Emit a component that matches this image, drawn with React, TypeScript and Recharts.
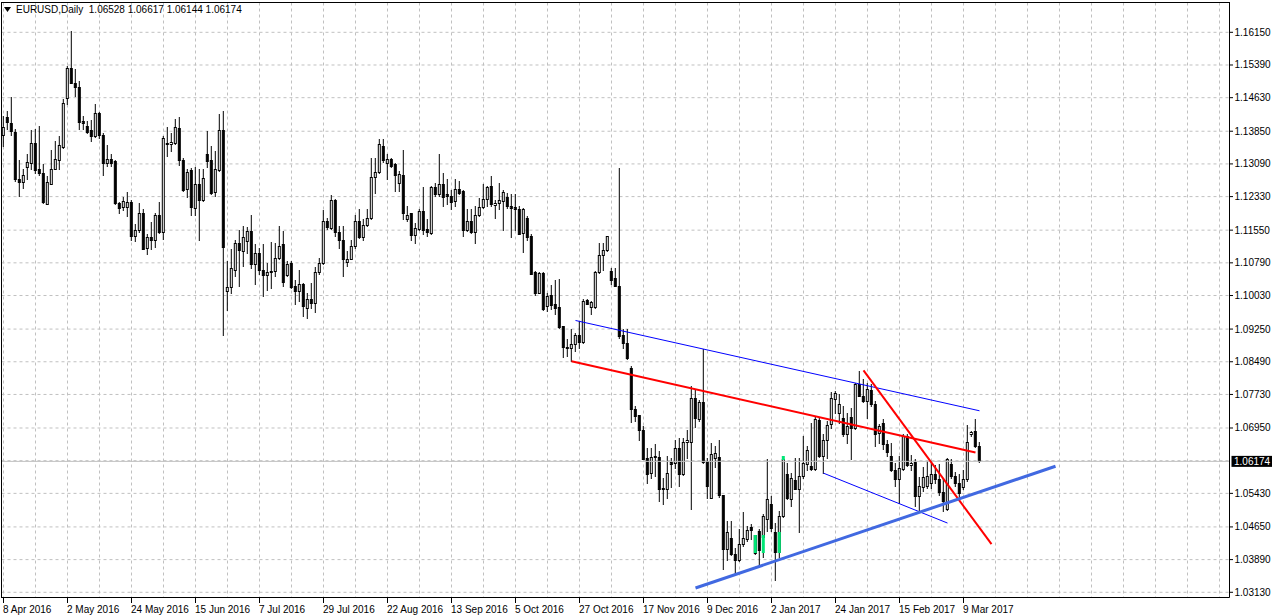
import React from "react";
import { Bar, CartesianGrid, ComposedChart, ReferenceLine, XAxis, YAxis } from "recharts";

// EURUSD daily candles, left to right (one per bar slot)
const opens = [
  1.1376, 1.1417, 1.1403, 1.1382, 1.1273, 1.1265, 1.1300, 1.1310, 1.1357, 1.1295,
  1.1287, 1.1215, 1.1262, 1.1296, 1.1318, 1.1348, 1.1462, 1.1531, 1.1496, 1.1486,
  1.1407, 1.1396, 1.1386, 1.1372, 1.1427, 1.1376, 1.1310, 1.1320, 1.1314, 1.1217,
  1.1207, 1.1207, 1.1220, 1.1140, 1.1155, 1.1194, 1.1113, 1.1138, 1.1131, 1.1190,
  1.1149, 1.1357, 1.1355, 1.1357, 1.1392, 1.1318, 1.1250, 1.1293, 1.1206, 1.1260,
  1.1223, 1.1331, 1.1316, 1.1242, 1.1293, 1.1386, 1.1012, 1.1021, 1.1062, 1.1124,
  1.1105, 1.1128, 1.1153, 1.1076, 1.1101, 1.1062, 1.1049, 1.1056, 1.1059, 1.1090,
  1.1121, 1.1049, 1.1078, 1.1024, 1.1012, 1.1028, 1.0972, 1.0994, 1.0985, 1.1056,
  1.1078, 1.1176, 1.1159, 1.1225, 1.1149, 1.1130, 1.1080, 1.1087, 1.1117, 1.1176,
  1.1138, 1.1165, 1.1183, 1.1278, 1.1289, 1.1350, 1.1310, 1.1320, 1.1307, 1.1264,
  1.1283, 1.1179, 1.1193, 1.1142, 1.1157, 1.1198, 1.1157, 1.1148, 1.1255, 1.1237,
  1.1260, 1.1237, 1.1234, 1.1221, 1.1250, 1.1245, 1.1154, 1.1175, 1.1149, 1.1190,
  1.1208, 1.1227, 1.1256, 1.1212, 1.1217, 1.1221, 1.1231, 1.1211, 1.1207, 1.1204,
  1.1148, 1.1181, 1.1140, 1.1056, 1.1008, 1.1055, 1.0977, 1.1002, 1.0981, 1.0975,
  1.0931, 1.0882, 1.0880, 1.0888, 1.0910, 1.0893, 1.0991, 1.0976, 1.0976, 1.1057,
  1.1096, 1.1107, 1.1060, 1.1043, 1.1025, 1.0909, 1.0892, 1.0834, 1.0737, 1.0723,
  1.0690, 1.0625, 1.0590, 1.0626, 1.0626, 1.0552, 1.0552, 1.0615, 1.0613, 1.0648,
  1.0586, 1.0662, 1.0662, 1.0764, 1.0715, 1.0754, 1.0617, 1.0532, 1.0625, 1.0626,
  1.0538, 1.0413, 1.0439, 1.0402, 1.0388, 1.0425, 1.0435, 1.0464, 1.0444, 1.0454,
  1.0441, 1.0483, 1.0516, 1.0452, 1.0405, 1.0489, 1.0586, 1.0529, 1.0574, 1.0551,
  1.0582, 1.0611, 1.0605, 1.0599, 1.0712, 1.0628, 1.0665, 1.0702, 1.0762, 1.0729,
  1.0718, 1.0681, 1.0720, 1.0694, 1.0797, 1.0769, 1.0756, 1.0783, 1.0749, 1.0683,
  1.0706, 1.0656, 1.0628, 1.0596, 1.0576, 1.0599, 1.0675, 1.0607, 1.0614, 1.0535,
  1.0557, 1.0559, 1.0565, 1.0586, 1.0576, 1.0545, 1.0506, 1.0609, 1.0582, 1.0565,
  1.0556, 1.0576, 1.0679, 1.0687, 1.06528,
];

const highs = [
  1.1420, 1.1431, 1.1464, 1.1388, 1.1318, 1.1295, 1.1330, 1.1386, 1.1389, 1.1397,
  1.1307, 1.1279, 1.1341, 1.1361, 1.1372, 1.1459, 1.1535, 1.1616, 1.1529, 1.1500,
  1.1419, 1.1407, 1.1411, 1.1448, 1.1428, 1.1380, 1.1351, 1.1330, 1.1318, 1.1220,
  1.1230, 1.1243, 1.1223, 1.1167, 1.1217, 1.1202, 1.1145, 1.1173, 1.1194, 1.1220,
  1.1372, 1.1394, 1.1380, 1.1413, 1.1417, 1.1322, 1.1297, 1.1299, 1.1300, 1.1295,
  1.1297, 1.1384, 1.1349, 1.1339, 1.1423, 1.1431, 1.1083, 1.1111, 1.1132, 1.1155,
  1.1163, 1.1161, 1.1189, 1.1121, 1.1113, 1.1121, 1.1078, 1.1127, 1.1123, 1.1163,
  1.1152, 1.1082, 1.1083, 1.1039, 1.1062, 1.1030, 1.1007, 1.1030, 1.1069, 1.1090,
  1.1200, 1.1183, 1.1235, 1.1227, 1.1163, 1.1163, 1.1105, 1.1132, 1.1190, 1.1202,
  1.1179, 1.1202, 1.1322, 1.1322, 1.1366, 1.1366, 1.1332, 1.1322, 1.1310, 1.1291,
  1.1341, 1.1210, 1.1194, 1.1171, 1.1202, 1.1254, 1.1179, 1.1256, 1.1264, 1.1330,
  1.1287, 1.1272, 1.1248, 1.1272, 1.1268, 1.1248, 1.1203, 1.1202, 1.1210, 1.1229,
  1.1260, 1.1256, 1.1279, 1.1225, 1.1264, 1.1248, 1.1241, 1.1237, 1.1237, 1.1210,
  1.1206, 1.1186, 1.1144, 1.1059, 1.1057, 1.1056, 1.1008, 1.1026, 1.1039, 1.1041,
  1.0931, 1.0900, 1.0923, 1.0915, 1.0942, 1.0993, 1.0994, 1.0989, 1.1059, 1.1124,
  1.1124, 1.1141, 1.1066, 1.1066, 1.1299, 1.0923, 1.0923, 1.0838, 1.0745, 1.0725,
  1.0698, 1.0648, 1.0648, 1.0656, 1.0640, 1.0578, 1.0628, 1.0625, 1.0667, 1.0671,
  1.0671, 1.0690, 1.0791, 1.0783, 1.0759, 1.0878, 1.0625, 1.0659, 1.0652, 1.0667,
  1.0539, 1.0477, 1.0477, 1.0415, 1.0458, 1.0498, 1.0466, 1.0470, 1.0446, 1.0458,
  1.0495, 1.0621, 1.0535, 1.0473, 1.0500, 1.0628, 1.0613, 1.0590, 1.0625, 1.0625,
  1.0675, 1.0653, 1.0706, 1.0721, 1.0718, 1.0679, 1.0710, 1.0777, 1.0780, 1.0772,
  1.0745, 1.0729, 1.0741, 1.0799, 1.0826, 1.0807, 1.0799, 1.0795, 1.0756, 1.0702,
  1.0714, 1.0667, 1.0658, 1.0613, 1.0628, 1.0679, 1.0679, 1.0632, 1.0621, 1.0580,
  1.0604, 1.0617, 1.0617, 1.0607, 1.0609, 1.0578, 1.0625, 1.0621, 1.0591, 1.0586,
  1.0597, 1.0700, 1.0687, 1.0714, 1.06617,
];

const lows = [
  1.1349, 1.1388, 1.1376, 1.1268, 1.1233, 1.1252, 1.1273, 1.1295, 1.1287, 1.1283,
  1.1217, 1.1214, 1.1260, 1.1295, 1.1295, 1.1345, 1.1448, 1.1495, 1.1465, 1.1388,
  1.1388, 1.1380, 1.1361, 1.1371, 1.1367, 1.1283, 1.1303, 1.1303, 1.1214, 1.1193,
  1.1200, 1.1186, 1.1130, 1.1128, 1.1150, 1.1109, 1.1099, 1.1109, 1.1114, 1.1148,
  1.1134, 1.1326, 1.1339, 1.1353, 1.1305, 1.1245, 1.1231, 1.1189, 1.1189, 1.1131,
  1.1221, 1.1300, 1.1237, 1.1234, 1.1291, 1.0910, 1.0969, 1.1008, 1.1047, 1.1024,
  1.1070, 1.1101, 1.1066, 1.1028, 1.1053, 1.1000, 1.1014, 1.1020, 1.1047, 1.1086,
  1.1024, 1.1047, 1.1020, 1.0981, 1.0989, 1.0954, 1.0950, 1.0973, 1.0963, 1.1053,
  1.1074, 1.1157, 1.1157, 1.1140, 1.1113, 1.1047, 1.1070, 1.1086, 1.1113, 1.1136,
  1.1131, 1.1163, 1.1180, 1.1241, 1.1287, 1.1312, 1.1272, 1.1301, 1.1245, 1.1245,
  1.1179, 1.1175, 1.1132, 1.1124, 1.1155, 1.1144, 1.1140, 1.1146, 1.1234, 1.1233,
  1.1210, 1.1214, 1.1202, 1.1210, 1.1237, 1.1140, 1.1152, 1.1148, 1.1123, 1.1186,
  1.1206, 1.1210, 1.1210, 1.1183, 1.1202, 1.1155, 1.1206, 1.1138, 1.1155, 1.1144,
  1.1103, 1.1132, 1.1051, 1.1004, 1.1007, 1.0969, 1.0966, 1.0971, 1.0958, 1.0927,
  1.0859, 1.0861, 1.0849, 1.0873, 1.0880, 1.0892, 1.0981, 1.0958, 1.0973, 1.1055,
  1.1062, 1.1105, 1.1028, 1.1024, 1.0904, 1.0880, 1.0855, 1.0708, 1.0710, 1.0666,
  1.0621, 1.0566, 1.0578, 1.0582, 1.0524, 1.0518, 1.0532, 1.0557, 1.0601, 1.0560,
  1.0584, 1.0625, 1.0506, 1.0696, 1.0710, 1.0613, 1.0532, 1.0530, 1.0604, 1.0534,
  1.0367, 1.0388, 1.0398, 1.0353, 1.0384, 1.0419, 1.0431, 1.0435, 1.0400, 1.0373,
  1.0395, 1.0454, 1.0454, 1.0340, 1.0395, 1.0487, 1.0529, 1.0512, 1.0551, 1.0452,
  1.0578, 1.0597, 1.0597, 1.0597, 1.0627, 1.0590, 1.0623, 1.0694, 1.0729, 1.0706,
  1.0676, 1.0659, 1.0621, 1.0692, 1.0768, 1.0754, 1.0718, 1.0746, 1.0653, 1.0659,
  1.0644, 1.0628, 1.0594, 1.0559, 1.0520, 1.0597, 1.0605, 1.0597, 1.0512, 1.0498,
  1.0547, 1.0555, 1.0555, 1.0566, 1.0539, 1.0500, 1.0504, 1.0578, 1.0559, 1.0534,
  1.0551, 1.0570, 1.0676, 1.0650, 1.06144,
];

const closes = [
  1.1394, 1.1405, 1.1384, 1.1272, 1.1265, 1.1283, 1.1313, 1.1357, 1.1293, 1.1287,
  1.1220, 1.1266, 1.1296, 1.1320, 1.1351, 1.1450, 1.1531, 1.1496, 1.1486, 1.1406,
  1.1402, 1.1382, 1.1372, 1.1427, 1.1376, 1.1309, 1.1320, 1.1310, 1.1216, 1.1205,
  1.1222, 1.1220, 1.1140, 1.1155, 1.1194, 1.1111, 1.1138, 1.1131, 1.1190, 1.1149,
  1.1369, 1.1355, 1.1359, 1.1394, 1.1317, 1.1248, 1.1289, 1.1207, 1.1262, 1.1223,
  1.1276, 1.1314, 1.1241, 1.1295, 1.1386, 1.1114, 1.1022, 1.1065, 1.1123, 1.1107,
  1.1138, 1.1153, 1.1074, 1.1101, 1.1061, 1.1049, 1.1057, 1.1059, 1.1090, 1.1118,
  1.1033, 1.1076, 1.1021, 1.1012, 1.1028, 1.0977, 1.0994, 1.0985, 1.1057, 1.1078,
  1.1175, 1.1161, 1.1225, 1.1149, 1.1130, 1.1086, 1.1087, 1.1118, 1.1176, 1.1138,
  1.1165, 1.1183, 1.1278, 1.1289, 1.1353, 1.1318, 1.1320, 1.1304, 1.1283, 1.1285,
  1.1194, 1.1190, 1.1142, 1.1159, 1.1198, 1.1155, 1.1149, 1.1255, 1.1237, 1.1260,
  1.1231, 1.1233, 1.1219, 1.1250, 1.1241, 1.1154, 1.1175, 1.1149, 1.1190, 1.1208,
  1.1227, 1.1255, 1.1214, 1.1217, 1.1223, 1.1242, 1.1210, 1.1205, 1.1202, 1.1146,
  1.1202, 1.1138, 1.1053, 1.1007, 1.1055, 1.0971, 1.1000, 1.0979, 1.0973, 1.0928,
  1.0883, 1.0879, 1.0888, 1.0909, 1.0893, 1.0989, 1.0983, 1.0986, 1.1057, 1.1097,
  1.1107, 1.1140, 1.1039, 1.1025, 1.0907, 1.0892, 1.0857, 1.0737, 1.0721, 1.0689,
  1.0622, 1.0587, 1.0626, 1.0628, 1.0552, 1.0555, 1.0590, 1.0611, 1.0648, 1.0587,
  1.0662, 1.0667, 1.0764, 1.0718, 1.0754, 1.0615, 1.0559, 1.0634, 1.0635, 1.0537,
  1.0413, 1.0452, 1.0402, 1.0387, 1.0425, 1.0437, 1.0456, 1.0456, 1.0404, 1.0411,
  1.0489, 1.0529, 1.0462, 1.0405, 1.0489, 1.0622, 1.0532, 1.0578, 1.0552, 1.0582,
  1.0613, 1.0642, 1.0599, 1.0714, 1.0628, 1.0665, 1.0700, 1.0764, 1.0776, 1.0749,
  1.0681, 1.0698, 1.0694, 1.0795, 1.0769, 1.0756, 1.0785, 1.0749, 1.0679, 1.0698,
  1.0656, 1.0638, 1.0596, 1.0576, 1.0600, 1.0675, 1.0607, 1.0613, 1.0535, 1.0559,
  1.0580, 1.0582, 1.0588, 1.0576, 1.0545, 1.0524, 1.0622, 1.0582, 1.0566, 1.0543,
  1.0576, 1.0661, 1.0685, 1.0653, 1.06174,
];

// bars painted green by an indicator: slot, lower and upper price
const greenBars = [188, 190, 194, 195];
const greenLow = [1.0404, 1.0404, 1.0404, 1.0620];
const greenHigh = [1.0444, 1.0444, 1.0453, 1.0628];

// one date label every 16 bars
const dateLabels = [
  "8 Apr 2016", "2 May 2016", "24 May 2016", "15 Jun 2016", "7 Jul 2016", "29 Jul 2016",
  "22 Aug 2016", "13 Sep 2016", "5 Oct 2016", "27 Oct 2016", "17 Nov 2016", "9 Dec 2016",
  "2 Jan 2017", "24 Jan 2017", "15 Feb 2017", "9 Mar 2017",
];

const priceTicks = [
  1.1615, 1.1539, 1.1463, 1.1385, 1.1309, 1.1233, 1.1155, 1.1079, 1.1003,
  1.0925, 1.0849, 1.0773, 1.0695, 1.0619, 1.0543, 1.0465, 1.0389, 1.0313,
];

const bid = 1.06174;
const symbolTitle = "EURUSD,Daily  1.06528 1.06617 1.06144 1.06174";

// hand drawn trend lines: [bar slot, price] at both ends
const redChannel = [[142, 1.0850], [243, 1.0638]];
const redSteep = [[215, 1.0829], [247, 1.0425]];
const blueUpper = [[143, 1.0945], [244, 1.0735]];
const blueLower = [[205, 1.0590], [236, 1.0474]];
const blueSupport = [[173, 1.0323], [263, 1.0606]];

const SLOTS = 307; // bars plus the empty shift area on the right
const FONT = "'Liberation Sans', Arial, sans-serif";

const rows = Array.from({ length: SLOTS }, (_, i) => {
  const g = greenBars.indexOf(i);
  const has = i < opens.length;
  return {
    i,
    o: has ? opens[i] : null,
    h: has ? highs[i] : null,
    l: has ? lows[i] : null,
    c: has ? closes[i] : null,
    range: has ? [lows[i], highs[i]] : null,
    gl: g >= 0 ? greenLow[g] : null,
    gh: g >= 0 ? greenHigh[g] : null,
  };
});

const gridTicks = Array.from({ length: 39 }, (_, k) => k * 8);

function seg(p: number[][]) {
  return [{ x: p[0][0], y: p[0][1] }, { x: p[1][0], y: p[1][1] }];
}

function Candle(props: any) {
  const { x, y, width, height, payload } = props;
  if (!payload || payload.o == null) return <g />;
  const { o, h, l, c, gl, gh } = payload;
  const top = Math.min(y, y + height);
  const span = Math.abs(height);
  const toY = (v: number) => (h === l ? top : top + ((h - v) / (h - l)) * span);
  const cx = x + width / 2;
  const yh = Math.floor(toY(h));
  const yl = Math.floor(toY(l));
  const yTop = Math.floor(toY(Math.max(o, c)));
  const yBot = Math.floor(toY(Math.min(o, c)));
  const bull = c >= o;
  return (
    <g>
      <line x1={cx} x2={cx} y1={yh} y2={yl + 1} stroke="#000" strokeWidth={1} />
      {yBot - yTop >= 1 ? (
        <rect x={cx - 1} y={yTop + 0.5} width={2} height={yBot - yTop} fill={bull ? "#fff" : "#000"} stroke="#000" strokeWidth={1} />
      ) : (
        <line x1={cx - 1.5} x2={cx + 1.5} y1={yTop + 0.5} y2={yTop + 0.5} stroke="#000" strokeWidth={1} />
      )}
      {gl != null && (
        <rect x={cx - 1.5} y={Math.floor(toY(gh))} width={3} height={Math.max(Math.floor(toY(gl)) - Math.floor(toY(gh)), 1)} fill="#00e676" />
      )}
    </g>
  );
}

function DateTick(props: any) {
  const { x, y, payload } = props;
  const idx = payload.value as number;
  const label = idx % 16 === 0 ? dateLabels[idx / 16] : undefined;
  if (!label) return <g />;
  return (
    <g>
      <line x1={x} x2={x} y1={y + 0.5} y2={y + 5.5} stroke="#000" strokeWidth={1} />
      <text x={x - 0.5} y={y + 15.5} fontSize={10} fontFamily={FONT} fill="#000">
        {label}
      </text>
    </g>
  );
}

function PriceTick(props: any) {
  const { x, y, payload } = props;
  const v = payload.value as number;
  if (v === 1.0619) return <g />; // hidden behind the bid tag
  return (
    <g>
      <line x1={x} x2={x + 3.5} y1={y} y2={y} stroke="#000" strokeWidth={1} />
      <text x={x + 5} y={y + 3.5} fontSize={10} fontFamily={FONT} fill="#000">
        {v.toFixed(5)}
      </text>
    </g>
  );
}

function BidTag(props: any) {
  const vb = props.viewBox || {};
  const right = (vb.x || 0) + (vb.width || 0);
  const cy = vb.y || 0;
  return (
    <g>
      <rect x={right + 2} y={cy - 5.5} width={41} height={11} fill="#000" />
      <text x={right + 4.5} y={cy + 3.5} fontSize={10} fontFamily={FONT} fill="#fff">
        {bid.toFixed(5)}
      </text>
    </g>
  );
}

export default function App() {
  return (
    <div style={{ position: "absolute", left: 0, top: 0, width: 1272, height: 616, background: "#fff", overflow: "hidden" }}>
      <ComposedChart
        width={1272}
        height={616}
        data={rows}
        margin={{ top: 2.5, right: 0, bottom: 0, left: 1.5 }}
        barCategoryGap={0}
        barGap={0}
      >
        <CartesianGrid stroke="#c0c0c0" strokeDasharray="3 3" />
        <XAxis
          dataKey="i"
          type="category"
          ticks={gridTicks}
          interval={0}
          height={18.5}
          tickSize={0}
          tickMargin={0}
          tickLine={false}
          axisLine={{ stroke: "#000" }}
          tick={<DateTick />}
        />
        <YAxis
          orientation="right"
          type="number"
          domain={[1.03009, 1.16843]}
          allowDataOverflow
          ticks={priceTicks}
          interval={0}
          width={42.5}
          tickSize={0}
          tickMargin={0}
          tickLine={false}
          axisLine={{ stroke: "#000" }}
          tick={<PriceTick />}
        />
        <ReferenceLine y={bid} stroke="#c0c0c0" strokeWidth={1} label={<BidTag />} />
        <Bar dataKey="range" barSize={4} isAnimationActive={false} shape={<Candle />} />
        <ReferenceLine segment={seg(blueUpper)} stroke="#0000ff" strokeWidth={1} />
        <ReferenceLine segment={seg(blueLower)} stroke="#0000ff" strokeWidth={1} />
        <ReferenceLine segment={seg(redChannel)} stroke="#ff0000" strokeWidth={2} />
        <ReferenceLine segment={seg(redSteep)} stroke="#ff0000" strokeWidth={2} />
        <ReferenceLine segment={seg(blueSupport)} stroke="#4169e1" strokeWidth={3} />
      </ComposedChart>
      <div style={{ position: "absolute", left: 1, top: 2, width: 1, height: 596, background: "#000" }} />
      <div style={{ position: "absolute", left: 1, top: 2, width: 1229, height: 1, background: "#000" }} />
      <div style={{ position: "absolute", left: 4, top: 4, display: "flex", alignItems: "center", fontFamily: FONT, fontSize: 10, color: "#000", whiteSpace: "pre", lineHeight: "12px" }}>
        <svg width={8} height={6} style={{ marginRight: 4 }}>
          <polygon points="0,0 7,0 3.5,5" fill="#000" />
        </svg>
        <span>{symbolTitle}</span>
      </div>
    </div>
  );
}
